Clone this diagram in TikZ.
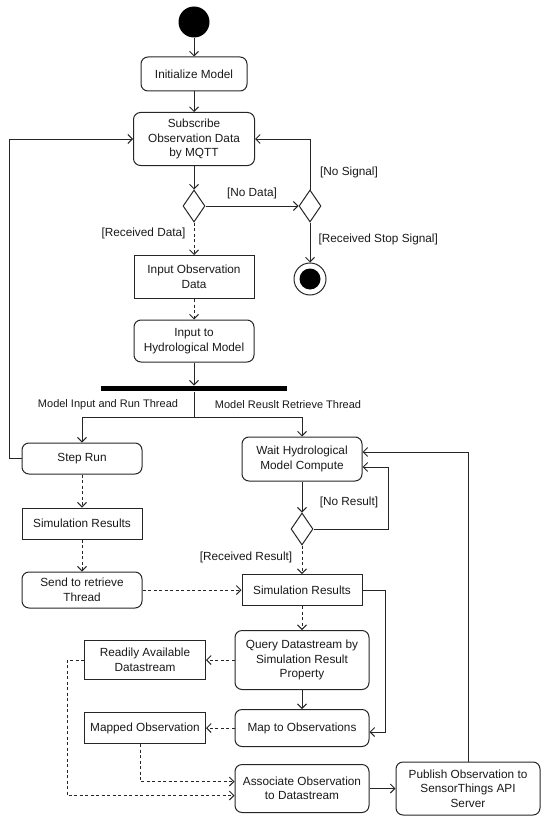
\documentclass[tikz,border=0pt]{standalone}
\usepackage{fontspec}
\setmainfont{Liberation Sans}
\usetikzlibrary{shapes.geometric,arrows.meta}

\begin{document}
\begin{tikzpicture}[x=1pt, y=-1pt, line width=1pt, color=black!85,
        >={Straight Barb[length=4.5pt,width=9pt]},
        every node/.style={font=\fontsize{11.8}{14.5}\selectfont, text=black!90},
        act/.style={draw, rounded corners=7pt, align=center, inner sep=0pt},
        obj/.style={draw, align=center, inner sep=0pt},
        dec/.style={draw, diamond, inner sep=0pt, minimum width=22pt, minimum height=32pt},
        flow/.style={->},
        objflow/.style={->, dash pattern=on 3pt off 2.5pt}]
    \useasboundingbox (0,0) rectangle (550,824);

    % main column
    \node[circle, fill=black, minimum size=31pt, inner sep=0pt] (start) at (194,22) {};
    \node[act, minimum width=106pt, minimum height=34pt] (init) at (194,74) {Initialize Model};
    \node[act, minimum width=121pt, minimum height=53pt] (sub) at (194,139) {Subscribe\\Observation Data\\by MQTT};
    \node[dec] (d1) at (194,206) {};
    \node[dec] (d2) at (310,206) {};
    \node[circle, draw, minimum size=32pt, inner sep=0pt] (stop) at (310,279) {};
    \node[circle, fill=black, minimum size=21pt, inner sep=0pt] (stopdot) at (stop) {};
    \node[obj, minimum width=120pt, minimum height=43pt] (inobs) at (194,277) {Input Observation\\Data};
    \node[act, minimum width=120pt, minimum height=42pt] (inhyd) at (194,341) {Input to\\Hydrological Model};
    \node[fill=black, minimum width=186pt, minimum height=5pt, inner sep=0pt] (fork) at (194,388.5) {};
    \coordinate (split) at (194,417);

    % run thread
    \node[act, minimum width=120pt, minimum height=31pt] (step) at (82,458.5) {Step Run};
    \node[obj, minimum width=120pt, minimum height=31pt] (simL) at (82,523.5) {Simulation Results};
    \node[act, minimum width=120pt, minimum height=36pt] (send) at (82,590) {Send to retrieve\\Thread};

    % retrieve thread
    \node[act, minimum width=120pt, minimum height=44pt] (wait) at (302,459) {Wait Hydrological\\Model Compute};
    \node[dec] (d3) at (302,529) {};
    \node[obj, minimum width=120pt, minimum height=31pt] (simR) at (302,590) {Simulation Results};
    \node[act, minimum width=134pt, minimum height=59pt] (query) at (302,660) {Query Datastream by\\Simulation Result\\Property};
    \node[obj, minimum width=121pt, minimum height=39pt] (ready) at (145,660) {Readily Available\\Datastream};
    \node[act, minimum width=134pt, minimum height=37pt] (map) at (302,728) {Map to Observations};
    \node[obj, minimum width=121pt, minimum height=31pt] (mapped) at (145,728) {Mapped Observation};
    \node[act, minimum width=134pt, minimum height=48pt] (assoc) at (302,788.5) {Associate Observation\\to Datastream};
    \node[act, minimum width=144pt, minimum height=53pt] (pub) at (468,788.5) {Publish Observation to\\SensorThings API\\Server};

    % guards and thread names
    \node (lnodata) at (252,193) {[No Data]};
    \node (lnosig) at (349,172) {[No Signal]};
    \node[anchor=east, inner sep=0pt] (lrecdata) at (186,233) {[Received Data]};
    \node[anchor=west, inner sep=0pt] (lstop) at (318,239) {[Received Stop Signal]};
    \node[font=\fontsize{11}{13}\selectfont] (lrun) at (108,405) {Model Input and Run Thread};
    \node[font=\fontsize{11}{13}\selectfont] (lret) at (288,405) {Model Reuslt Retrieve Thread};
    \node (lnores) at (349,502) {[No Result]};
    \node (lrecres) at (246,557) {[Received Result]};

    % connectors
    \draw[flow] (start) -- (init);
    \draw[flow] (init) -- (sub);
    \draw[flow] (sub) -- (d1);
    \draw[flow] (d1) -- (d2);
    \draw[flow] (d2.north) |- (sub.east);
    \draw[flow] (d2) -- (stop);
    \draw[objflow] (d1) -- (inobs);
    \draw[objflow] (inobs) -- (inhyd);
    \draw[flow] (inhyd) -- (fork);
    \draw (fork.south) -- (split);
    \draw[flow] (split) -| (step.north);
    \draw[flow] (split) -| (wait.north);
    \draw[flow] (step.west) -- ++(-12,0) |- (sub.west);
    \draw[objflow] (step) -- (simL);
    \draw[objflow] (simL) -- (send);
    \draw[objflow] (send) -- (simR);
    \draw[flow] (wait) -- (d3);
    \draw[flow] (d3.east) -- ++(75,0) |- ([yshift=-8pt]wait.east);
    \draw[objflow] (d3) -- (simR);
    \draw[flow] (simR.east) -- ++(23,0) |- ([yshift=-4pt]map.east);
    \draw[objflow] (simR) -- (query);
    \draw[objflow] (query) -- (ready);
    \draw[flow] (query) -- (map);
    \draw[objflow] (map) -- (mapped);
    \draw[objflow] ([xshift=-5pt]mapped.south) |- ([yshift=7pt]assoc.west);
    \draw[objflow] (ready.west) -- ++(-17,0) |- ([yshift=-7pt]assoc.west);
    \draw[flow] (assoc) -- (pub);
    \draw[flow] (pub.north) |- ([yshift=7pt]wait.east);
\end{tikzpicture}
\end{document}
